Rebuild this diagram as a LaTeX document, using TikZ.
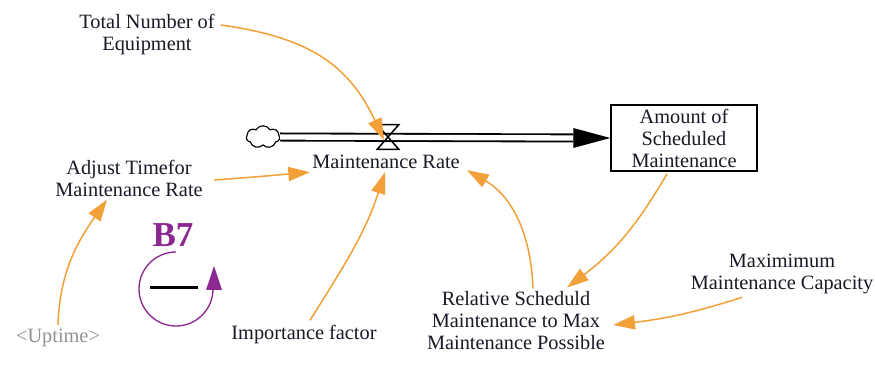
\documentclass[tikz,border=0pt]{standalone}
\usepackage{fontspec}
\setmainfont{Liberation Serif}
\newfontfamily\lblfont{Liberation Serif}
\usetikzlibrary{arrows.meta,calc,shapes.symbols}
\definecolor{lnk}{RGB}{242,160,55}
\definecolor{loopcol}{RGB}{140,40,145}
\definecolor{txt}{RGB}{25,25,40}
\begin{document}
\begin{tikzpicture}[x=0.6pt,y=0.6pt,
  lbl/.style={align=center,inner sep=0pt,text=txt,font=\lblfont\fontsize{12.2}{13.2}\selectfont},
  link/.style={draw=lnk,line width=0.9pt,-{Triangle[length=13pt,width=8.5pt]}},
  pipe/.style={draw=black,double=white,double distance=3.2pt,line width=1.1pt},
]
\useasboundingbox (0,0) rectangle (875,-365);
\fill[white] (0,0) rectangle (875,-365);

% variables
\node[lbl] (total) at (147,-35) {Total Number of\\Equipment};
\node[lbl] (adj) at (129,-178) {Adjust Timefor\\Maintenance Rate};
\node[lbl] (rate) at (386,-162) {Maintenance Rate};
\node[lbl] (imp) at (304,-335) {Importance factor};
\node[lbl,text=gray!85] (uptime) at (58,-338) {<Uptime>};
\node[lbl] (rel) at (516,-321) {Relative Scheduld\\Maintenance to Max\\Maintenance Possible};
\node[lbl] (maxc) at (782,-274) {Maximimum\\Maintenance Capacity};
\node[lbl,draw=black,line width=0.9pt,minimum width=87.6pt,minimum height=39.6pt] (box) at (684,-138) {Amount of\\Scheduled\\Maintenance};

% flow
\node[cloud,cloud puffs=7,cloud puff arc=120,draw,line width=0.7pt,minimum width=20pt,minimum height=13.5pt,inner sep=0pt] (cloud) at (263,-137) {};
\node[inner sep=0pt,minimum width=12.6pt,minimum height=14.4pt] (valve) at (388,-137) {};
\draw[pipe] (cloud.east) -- ($(box.west)+(-37,0)$);
\fill[black] (box.west) -- ($(box.west)+(-37,10)$) -- ($(box.west)+(-37,-10)$) -- cycle;
\draw[line width=0.9pt,line join=miter] (valve.north west) -- (valve.north east) -- (valve.south west) -- (valve.south east) -- cycle;

% links
\draw[link] ($(total.east)+(6,10)$) to[out=-8,in=115,looseness=1.1] ($(valve.center)+(-4,-3)$);
\draw[link] ($(adj.east)+(11,-2)$) to[out=4,in=185] ($(rate.south west)+(-2,-3)$);
\draw[link] ($(uptime.north)+(0,4)$) to[out=88,in=235] ($(adj.south west)+(52,-3)$);
\draw[link] ($(imp.north)+(6,5)$) to[out=58,in=-108] ($(rate.south)+(-1,-3)$);
\draw[link] ($(rel.north)+(17,3)$) to[out=92,in=-30] ($(rate.south east)+(7,-1)$);
\draw[link] ($(box.south)+(-17,-2)$) to[out=-120,in=37] ($(rel.north)+(51,4)$);
\draw[link] ($(maxc.south)+(-40,-3)$) to[out=198,in=7] ($(rel.east)+(8,-4)$);

% loop B7
\coordinate (lc) at (176,-289);
\node[inner sep=0pt,text=loopcol,font=\lblfont\bfseries\fontsize{21}{21}\selectfont] (b7) at (173,-235) {B7};
\draw[loopcol,line width=0.8pt] ($(lc)+(0,37)$) arc[start angle=90,end angle=360,radius=37];
\fill[loopcol] ($(lc)+(38,23)$) -- ($(lc)+(30,-1)$) -- ($(lc)+(46,-1)$) -- cycle;
\draw[black,line width=1.8pt] ($(lc)+(-26,1)$) -- ($(lc)+(22,1)$);
\end{tikzpicture}
\end{document}
